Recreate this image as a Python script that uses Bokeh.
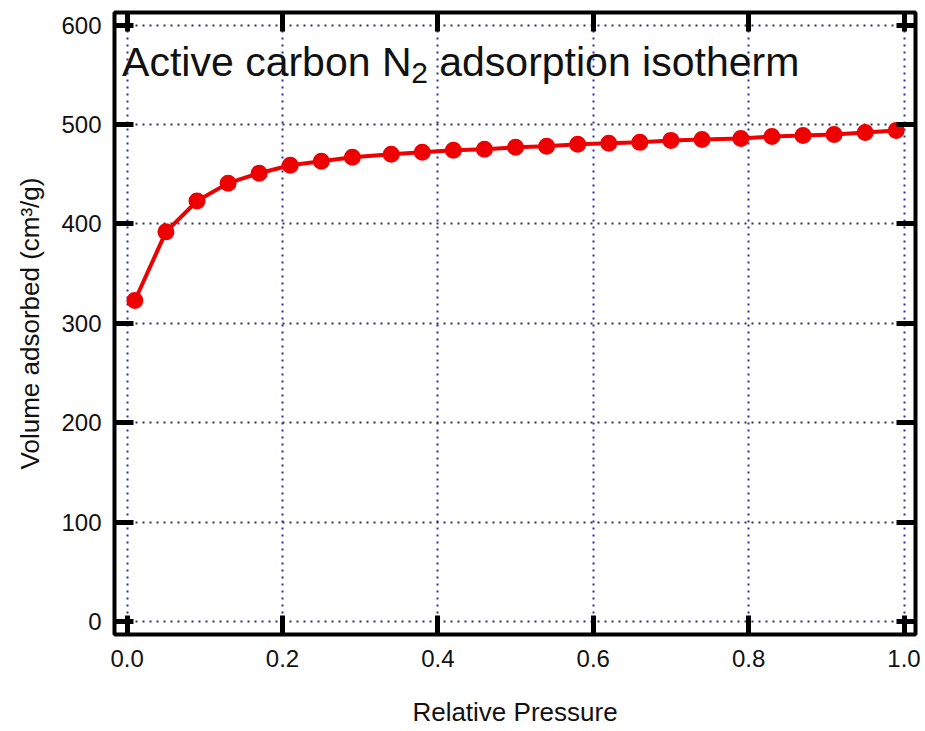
from bokeh.plotting import figure
from bokeh.models import (Range1d, LinearAxis, Label, FixedTicker, NumeralTickFormatter,
                          CustomLabelingPolicy)
from bokeh.embed import file_html
from bokeh.resources import INLINE

# ---- data ----
pressure = [0.01, 0.05, 0.09, 0.13, 0.17, 0.21, 0.25, 0.29, 0.34, 0.38, 0.42, 0.46, 0.50,
            0.54, 0.58, 0.62, 0.66, 0.70, 0.74, 0.79, 0.83, 0.87, 0.91, 0.95, 0.99]
volume = [323, 392, 423, 441, 451, 459, 463, 467, 470, 472, 474, 475, 477,
          478, 480, 481, 482, 484, 485, 486, 488, 489, 490, 492, 494]
x_ticks = [0.0, 0.2, 0.4, 0.6, 0.8, 1.0]
y_ticks = [0, 100, 200, 300, 400, 500, 600]
title_main = "Active carbon N"
title_sub = "2"
title_rest = "adsorption isotherm"
x_label = "Relative Pressure"
y_label = "Volume adsorbed (cm\u00b3/g)"

FONT = "Liberation Sans"
RED = "#ee0000"

p = figure(width=925, height=731, output_backend="svg", toolbar_location=None,
           x_range=Range1d(-0.0162, 1.0148), y_range=Range1d(-12.9, 612.6),
           min_border_left=114, min_border_right=10, min_border_top=12, min_border_bottom=97)
p.background_fill_color = "white"
p.border_fill_color = "white"
p.outline_line_color = "black"
p.outline_line_width = 4

xt = FixedTicker(ticks=x_ticks)
yt = FixedTicker(ticks=y_ticks)

bottom_axis = p.below[0]
left_axis = p.left[0]
top_axis = LinearAxis(ticker=xt)
right_axis = LinearAxis(ticker=yt)
p.add_layout(top_axis, "above")
p.add_layout(right_axis, "right")

bottom_axis.ticker = xt
left_axis.ticker = yt
bottom_axis.axis_label = x_label
left_axis.axis_label = y_label
bottom_axis.formatter = NumeralTickFormatter(format="0.0")
left_axis.formatter = NumeralTickFormatter(format="0")

for ax in [bottom_axis, left_axis, top_axis, right_axis]:
    ax.axis_line_color = None
    ax.major_tick_in = 19
    ax.major_tick_out = 0
    ax.major_tick_line_width = 5
    ax.major_tick_line_color = "black"
    ax.minor_tick_line_color = None
    ax.major_label_text_font = FONT
    ax.major_label_text_color = "#111111"
    ax.major_label_text_font_size = "24px"
    ax.axis_label_text_font = FONT
    ax.axis_label_text_font_style = "normal"
    ax.axis_label_text_font_size = "26px"
    ax.axis_label_text_color = "#111111"

# mirror axes: ticks only, no labels
no_labels = CustomLabelingPolicy(code="for (const i of indices) { indices.unset(i) }\nreturn indices")
for ax in [top_axis, right_axis]:
    ax.major_label_policy = no_labels
    ax.major_label_standoff = 0
    ax.major_label_text_font_size = "1px"

bottom_axis.major_label_standoff = 15
bottom_axis.axis_label_standoff = 27
left_axis.major_label_standoff = 13
left_axis.axis_label_standoff = 13

p.xgrid.ticker = xt
p.ygrid.ticker = yt
p.xgrid.grid_line_color = "#2a2ab8"
p.xgrid.grid_line_dash = "2 5"
p.xgrid.grid_line_width = 2
p.ygrid.grid_line_color = "#33335a"
p.ygrid.grid_line_dash = "2 5"
p.ygrid.grid_line_width = 2

p.line(pressure, volume, line_color=RED, line_width=4)
p.scatter(pressure, volume, size=15, marker="circle", fill_color=RED,
          line_color=RED, line_width=2)

p.add_layout(Label(x=-0.0064, y=563, text=title_main, text_font=FONT,
                   text_font_size="41px", text_color="#111111", text_baseline="alphabetic"))
p.add_layout(Label(x=0.3657, y=552, text=title_sub, text_font=FONT,
                   text_font_size="30px", text_color="#111111", text_baseline="alphabetic"))
p.add_layout(Label(x=0.4018, y=563, text=title_rest, text_font=FONT,
                   text_font_size="41px", text_color="#111111", text_baseline="alphabetic"))

open("out.html", "w").write(file_html(p, INLINE))
